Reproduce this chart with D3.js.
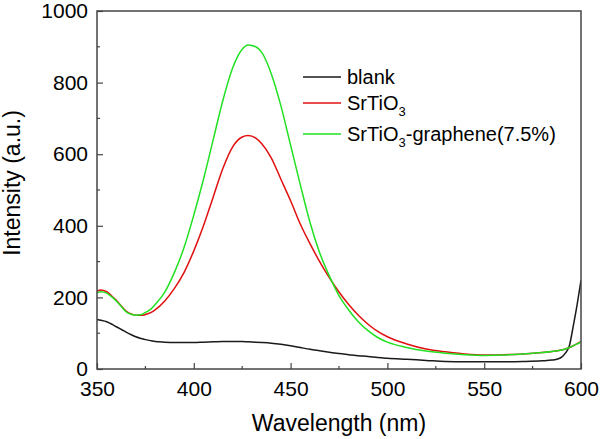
<!DOCTYPE html>
<html><head><meta charset="utf-8">
<script src="https://cdn.jsdelivr.net/npm/d3@7"></script>
<style>body{margin:0;background:#fff}svg{display:block}text{font-family:"Liberation Sans",Arial,sans-serif;fill:#000}</style>
</head><body><svg id="c" width="600" height="439"></svg>
<script>
const wavelengths = [350,352,355,358,360,363,365,368,370,373,375,378,380,385,390,395,400,405,410,415,420,425,428,432,435,440,445,450,455,460,465,470,475,480,485,490,495,500,510,520,530,540,550,560,570,580,585,588,590,592,594,596,598,600];
const blank = [138,136,132,124,118,109,103,95,90,85,82,79,77,75,74,74,74,75,76,77,77,77,76,75,74,72,69,65,60,55,51,47,43,40,37,35,32,30,27,24,21,20,20,20,21,23,25,28,33,45,65,120,180,248];
const srtio3 = [218,221,216,202,192,173,162,153,150,150,152,158,165,190,225,270,330,400,480,560,620,648,652,645,630,590,530,470,405,350,300,255,215,180,150,125,105,90,70,56,48,42,39,40,42,46,49,51,53,56,60,65,71,76];
const graphene = [213,216,212,200,190,172,160,152,150,152,158,168,180,215,270,340,430,530,640,750,840,893,905,900,885,825,735,625,515,410,325,260,205,165,132,107,88,75,60,50,44,40,38,39,42,46,49,51,53,56,60,65,70,76];
const xTicks = [350,400,450,500,550,600];
const yTicks = [0,200,400,600,800,1000];
const legendLabels = ["blank","SrTiO|3","SrTiO|3|-graphene(7.5%)"];

const svg = d3.select("#c");
const L=97, R=581, T=11, B=369;
const x = d3.scaleLinear().domain([350,600]).range([L,R]);
const y = d3.scaleLinear().domain([0,1000]).range([B,T]);
const axisColor = "#444";

const series = [
  {vals: blank, color:"#1a1a1a"},
  {vals: srtio3, color:"#e01010"},
  {vals: graphene, color:"#22e022"}
];
const line = d3.line().x(d=>x(d[0])).y(d=>y(d[1])).curve(d3.curveMonotoneX);
svg.append("clipPath").attr("id","cp").append("rect").attr("x",L).attr("y",T).attr("width",R-L).attr("height",B-T);
series.forEach(s=>{
  svg.append("path").attr("d", line(wavelengths.map((w,i)=>[w,s.vals[i]])))
    .attr("fill","none").attr("stroke",s.color).attr("stroke-width",1.5).attr("clip-path","url(#cp)");
});

svg.append("rect").attr("x",L).attr("y",T).attr("width",R-L).attr("height",B-T)
  .attr("fill","none").attr("stroke",axisColor).attr("stroke-width",1.5);

const xMinor = d3.range(375,600,50);
const gx = svg.append("g").attr("transform",`translate(0,${B})`);
gx.call(d3.axisBottom(x).tickValues(xTicks).tickSize(-6).tickPadding(12).tickFormat(d3.format("d")));
xMinor.forEach(v=>gx.append("line").attr("x1",x(v)).attr("x2",x(v)).attr("y1",0).attr("y2",-3).attr("stroke",axisColor).attr("stroke-width",1.2));
gx.select(".domain").remove();
gx.selectAll(".tick line").attr("stroke",axisColor).attr("stroke-width",1.2);
gx.selectAll(".tick text").attr("font-size",21).attr("font-family","Liberation Sans, Arial, sans-serif").attr("fill","#000");

const yMinor = d3.range(100,1000,200);
const gy = svg.append("g").attr("transform",`translate(${L},0)`);
gy.call(d3.axisLeft(y).tickValues(yTicks).tickSize(-6).tickPadding(9).tickFormat(d3.format("d")));
yMinor.forEach(v=>gy.append("line").attr("x1",0).attr("x2",3).attr("y1",y(v)).attr("y2",y(v)).attr("stroke",axisColor).attr("stroke-width",1.2));
gy.select(".domain").remove();
gy.selectAll(".tick line").attr("stroke",axisColor).attr("stroke-width",1.2);
gy.selectAll(".tick text").attr("font-size",21).attr("font-family","Liberation Sans, Arial, sans-serif").attr("fill","#000");

svg.append("text").attr("x",(L+R)/2).attr("y",431).attr("text-anchor","middle").attr("font-size",23).text("Wavelength (nm)");
svg.append("text").attr("transform","translate(20,183) rotate(-90)").attr("text-anchor","middle").attr("font-size",23).text("Intensity (a.u.)");

const lg = svg.append("g");
const rowsY = [77,103,134];
legendLabels.forEach((lab,i)=>{
  lg.append("line").attr("x1",303).attr("x2",341).attr("y1",rowsY[i]).attr("y2",rowsY[i]).attr("stroke",series[i].color).attr("stroke-width",1.5);
  const t = lg.append("text").attr("x",347).attr("y",rowsY[i]+7).attr("font-size",20);
  const parts = lab.split("|");
  if(parts.length===1){ t.text(lab); }
  else {
    t.append("tspan").text(parts[0]);
    t.append("tspan").attr("font-size",13).attr("dy",6).text(parts[1]);
    if(parts[2]) t.append("tspan").attr("dy",-6).text(parts[2]);
  }
});
</script></body></html>
